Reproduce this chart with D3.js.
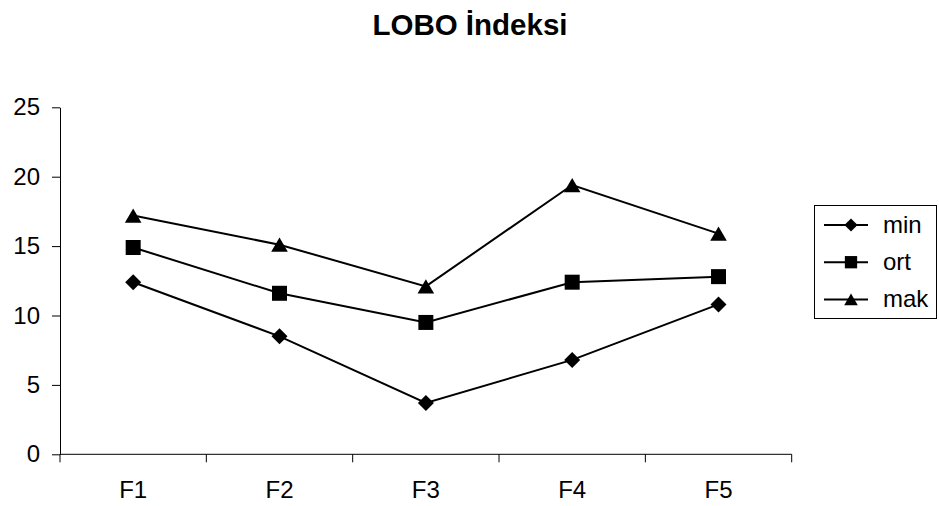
<!DOCTYPE html>
<html>
<head>
<meta charset="utf-8">
<script src="https://cdn.jsdelivr.net/npm/d3@7"></script>
<style>
  html, body { margin: 0; padding: 0; background: #fff; }
  svg { display: block; font-family: "Liberation Sans", Arial, sans-serif; }
</style>
</head>
<body>
<svg id="chart" width="939" height="506"></svg>
<script>
// Data
const categories = ["F1", "F2", "F3", "F4", "F5"];
const minValues = [12.4, 8.5, 3.7, 6.8, 10.8];
const ortValues = [14.9, 11.6, 9.5, 12.4, 12.8];
const makValues = [17.2, 15.1, 12.1, 19.4, 15.9];
const seriesNames = ["min", "ort", "mak"];
const yTicks = [0, 5, 10, 15, 20, 25];
const titleText = "LOBO İndeksi";

// Marker shapes, each centred on its bounding box; r is the half-width
const diamond = { draw(ctx, r) { ctx.moveTo(0, -r); ctx.lineTo(r, 0); ctx.lineTo(0, r); ctx.lineTo(-r, 0); ctx.closePath(); } };
const square = { draw(ctx, r) { ctx.rect(-r, -r, 2 * r, 2 * r); } };
const triangle = { draw(ctx, r) { const h = r * 0.86; ctx.moveTo(0, -h); ctx.lineTo(r, h); ctx.lineTo(-r, h); ctx.closePath(); } };

const series = [
  { name: seriesNames[0], values: minValues, symbol: diamond, r: 8 },
  { name: seriesNames[1], values: ortValues, symbol: square, r: 7.5 },
  { name: seriesNames[2], values: makValues, symbol: triangle, r: 8.3 }
];

const svg = d3.select("#chart");
const plot = { left: 60, right: 791.7, top: 107.3, bottom: 454.3 };

const x = d3.scaleBand().domain(categories).range([plot.left, plot.right]);
const y = d3.scaleLinear().domain([0, 25]).range([plot.bottom, plot.top]);
const cx = c => x(c) + x.bandwidth() / 2;

// Title
svg.append("text")
  .attr("x", 470).attr("y", 35)
  .attr("text-anchor", "middle")
  .attr("font-size", 29.5).attr("font-weight", "bold")
  .text(titleText);

// Y axis
const yAxis = svg.append("g")
  .attr("transform", `translate(${plot.left},0)`)
  .call(d3.axisLeft(y).tickValues(yTicks).tickSize(8).tickPadding(12).tickSizeOuter(0));
yAxis.select(".domain").attr("stroke", "#000");
yAxis.selectAll(".tick line").attr("stroke", "#000");
yAxis.selectAll("text")
  .attr("font-size", 24)
  .attr("font-family", "Liberation Sans, Arial, sans-serif")
  .attr("fill", "#000");

// X axis, tick marks on category boundaries
const xAxisG = svg.append("g").attr("transform", `translate(0,${plot.bottom})`);
xAxisG.append("line")
  .attr("x1", plot.left).attr("x2", plot.right)
  .attr("stroke", "#000");
const boundaries = categories.map(c => x(c)).concat([plot.right]);
xAxisG.selectAll(".xt").data(boundaries).join("line")
  .attr("class", "xt")
  .attr("x1", d => d).attr("x2", d => d)
  .attr("y1", 0).attr("y2", 8)
  .attr("stroke", "#000");
xAxisG.selectAll(".xl").data(categories).join("text")
  .attr("class", "xl")
  .attr("x", d => cx(d))
  .attr("y", 44)
  .attr("text-anchor", "middle")
  .attr("font-size", 24)
  .text(d => d);

// Lines and markers
const line = d3.line()
  .x((d, i) => cx(categories[i]))
  .y(d => y(d));

series.forEach(s => {
  svg.append("path")
    .datum(s.values)
    .attr("d", line)
    .attr("fill", "none")
    .attr("stroke", "#000")
    .attr("stroke-width", 2);
  svg.append("g").selectAll("path").data(s.values).join("path")
    .attr("transform", (d, i) => `translate(${cx(categories[i])},${y(d)})`)
    .attr("d", d3.symbol().type(s.symbol).size(s.r))
    .attr("fill", "#000");
});

// Legend
const legend = svg.append("g");
legend.append("rect")
  .attr("x", 814.5).attr("y", 205.5)
  .attr("width", 122).attr("height", 113)
  .attr("fill", "#fff").attr("stroke", "#000");
series.forEach((s, i) => {
  const ly = 225 + i * 37.2;
  legend.append("line")
    .attr("x1", 824).attr("x2", 868)
    .attr("y1", ly).attr("y2", ly)
    .attr("stroke", "#000").attr("stroke-width", 2);
  legend.append("path")
    .attr("transform", `translate(851,${ly})`)
    .attr("d", d3.symbol().type(s.symbol).size(s.r * 0.82))
    .attr("fill", "#000");
  legend.append("text")
    .attr("x", 883).attr("y", ly + 7.5)
    .attr("font-size", 24)
    .text(s.name);
});
</script>
</body>
</html>
